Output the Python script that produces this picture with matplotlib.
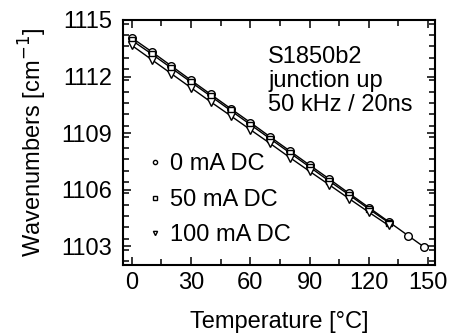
import matplotlib
matplotlib.use("Agg")
import matplotlib.pyplot as plt
from matplotlib.ticker import MultipleLocator

plt.rcParams['font.family'] = ['Liberation Sans', 'DejaVu Sans']

temp_0mA = [0, 10, 20, 30, 40, 50, 60, 70, 80, 90, 100, 110, 120, 130, 140, 148]
wn_0mA = [1114.05, 1113.32, 1112.56, 1111.80, 1111.05, 1110.30, 1109.56, 1108.80,
          1108.05, 1107.30, 1106.56, 1105.80, 1105.05, 1104.30, 1103.55, 1102.95]

temp_50mA = [0, 10, 20, 30, 40, 50, 60, 70, 80, 90, 100, 110, 120, 130]
wn_50mA = [1113.92, 1113.20, 1112.45, 1111.70, 1110.95, 1110.20, 1109.45, 1108.70,
           1107.95, 1107.20, 1106.45, 1105.72, 1104.97, 1104.25]

temp_100mA = [0, 10, 20, 30, 40, 50, 60, 70, 80, 90, 100, 110, 120, 130]
wn_100mA = [1113.65, 1112.90, 1112.15, 1111.40, 1110.65, 1109.92, 1109.18, 1108.45,
            1107.70, 1106.97, 1106.25, 1105.52, 1104.80, 1104.10]

labels = ['0 mA DC', '50 mA DC', '100 mA DC']
xticks = [0, 30, 60, 90, 120, 150]
yticks = [1103, 1106, 1109, 1112, 1115]

FS = 17

fig = plt.figure(figsize=(4.5, 3.35), dpi=100)
ax = fig.add_axes([0.2733, 0.209, 0.6934, 0.7313])

mk = dict(color='black', markerfacecolor='white', markeredgecolor='black',
          markeredgewidth=1.0, linewidth=1.0)
ax.plot(temp_0mA, wn_0mA, marker='o', markersize=5.5, label=labels[0], **mk)
ax.plot(temp_50mA, wn_50mA, marker='s', markersize=5, label=labels[1], **mk)
ax.plot(temp_100mA, wn_100mA, marker='v', markersize=5.5, label=labels[2], **mk)

ax.set_xlim(-4.5, 153.5)
ax.set_ylim(1102, 1115)
ax.set_xticks(xticks)
ax.set_yticks(yticks)
ax.xaxis.set_minor_locator(MultipleLocator(15))
ax.yaxis.set_minor_locator(MultipleLocator(0.6))
ax.tick_params(which='both', direction='in', top=True, right=True, width=1.1,
               labelsize=FS, colors='black')
ax.tick_params(which='major', length=6)
ax.tick_params(which='minor', length=4)
ax.tick_params(axis='y', which='major', pad=8)
ax.tick_params(axis='x', which='major', pad=5)
for s in ax.spines.values():
    s.set_linewidth(1.5)

ax.set_xlabel('Temperature [°C]', fontsize=FS, labelpad=12.5)
ax.set_ylabel('Wavenumbers [cm$^{-1}$]', fontsize=FS, labelpad=8.5)

ax.text(0.465, 0.893, 'S1850b2\njunction up\n50 kHz / 20ns', transform=ax.transAxes,
        fontsize=FS, va='top', ha='left', linespacing=1.1)

leg = ax.legend(loc='lower left', bbox_to_anchor=(0.05, 0.038), frameon=False,
                fontsize=FS, markerscale=0.55, handlelength=0.6, handletextpad=0.35,
                labelspacing=0.57, borderaxespad=0)
for h in leg.get_lines():
    h.set_linestyle('none')

fig.savefig('out.png', dpi=100)
